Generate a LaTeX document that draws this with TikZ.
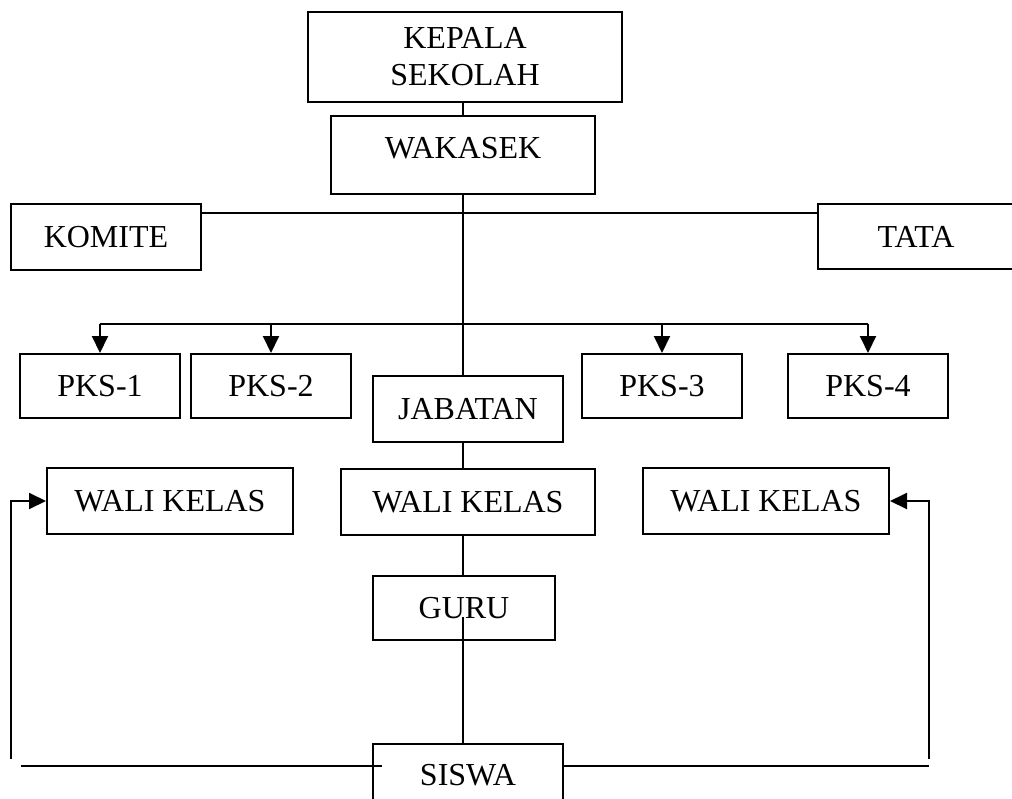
\documentclass[tikz,border=0pt]{standalone}
\usepackage{fontspec}
\setmainfont{Liberation Serif}
\usepackage{tikz}
\usetikzlibrary{arrows.meta}

\tikzset{
  kotak/.style={draw, line width=2pt, inner sep=0pt, align=center,
    minimum width=#1, font=\fontsize{32}{37}\selectfont},
  kotak/.default=160pt,
  garis/.style={line width=2pt},
  panah/.style={garis, -{Triangle[length=17pt,width=16pt]}}
}

\begin{document}
\begin{tikzpicture}[x=1pt, y=-1pt]
  \useasboundingbox (0,0) rectangle (1012,798);

  % Kotak utama
  \node[kotak=314pt, minimum height=90pt] (kepsek) at (465,57) {KEPALA\\SEKOLAH};
  \node[kotak=264pt, minimum height=78pt,
        label={[yshift=7pt, font=\fontsize{32}{37}\selectfont]center:WAKASEK}] (wakasek) at (463,155) {};
  \node[kotak=190pt, minimum height=66pt] (komite) at (106,237) {KOMITE};
  \node[kotak=196pt, minimum height=65pt] (tata) at (916,236.5) {TATA};

  \node[kotak, minimum height=64pt] (pks1) at (100,386) {PKS-1};
  \node[kotak, minimum height=64pt] (pks2) at (271,386) {PKS-2};
  \node[kotak, minimum height=64pt] (pks3) at (662,386) {PKS-3};
  \node[kotak, minimum height=64pt] (pks4) at (868,386) {PKS-4};
  \node[kotak=190pt, minimum height=66pt] (jabatan) at (468,409) {JABATAN};

  \node[kotak=246pt, minimum height=66pt] (walil) at (170,501) {WALI KELAS};
  \node[kotak=254pt, minimum height=66pt] (walim) at (468,502) {WALI KELAS};
  \node[kotak=246pt, minimum height=66pt] (walir) at (766,501) {WALI KELAS};

  \node[kotak=182pt, minimum height=64pt] (guru) at (464,608) {GURU};
  \node[kotak=190pt, minimum height=62pt] (siswa) at (468,775) {SISWA};

  % Titik bantu
  \coordinate (atas) at (463,213);
  \coordinate (bar) at (463,324);
  \coordinate (kaki kiri) at (11,759);
  \coordinate (kaki kanan) at (929,759);
  \coordinate (bawah) at (21,766);

  % Garis tengah
  \draw[garis] (wakasek.north -| atas) -- (kepsek.south -| atas);
  \draw[garis] (wakasek.south -| atas) -- (jabatan.north -| atas);
  \draw[garis] (jabatan.south -| atas) -- (walim.north -| atas);
  \draw[garis] (walim.south -| atas) -- (guru.north -| atas);
  \draw[garis] ([yshift=-9pt]guru.center -| atas) -- (siswa.north -| atas);

  \draw[garis] (komite.east |- atas) -- (tata.west |- atas);
  \draw[garis] (pks1.north |- bar) -- (pks4.north |- bar);
  \foreach \p in {pks1,pks2,pks3,pks4}
    \draw[panah] (\p.north |- bar) -- (\p.north);

  % Garis samping
  \draw[panah] (kaki kiri) -- (kaki kiri |- walil.west) -- (walil.west);
  \draw[panah] (kaki kanan) -- (kaki kanan |- walir.east) -- (walir.east);
  \draw[garis] (bawah) -- ([xshift=10pt]siswa.west |- bawah);
  \draw[garis] (siswa.east |- bawah) -- (kaki kanan |- bawah);
\end{tikzpicture}
\end{document}
